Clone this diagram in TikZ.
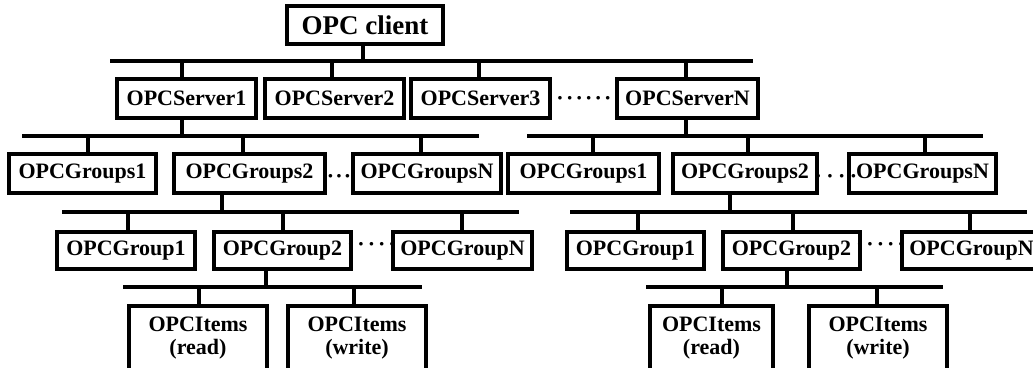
\documentclass[tikz,border=0pt]{standalone}
\usepackage{fontspec}
\setmainfont{Liberation Serif}
\begin{document}
\begin{tikzpicture}[x=1pt,y=-1pt,
  box/.style={draw, line width=3.2pt, inner sep=0pt, align=center,
    font=\fontsize{22}{23.5}\bfseries\selectfont, minimum height=39pt},
  bus/.style={line width=4pt},
  link/.style={line width=3.2pt},
  dotsty/.style={inner sep=0pt, font=\fontsize{22}{23.5}\bfseries\selectfont}]
\useasboundingbox (0,0) rectangle (1033,367);
\clip (0,0) rectangle (1033,367);

% ---------- nodes ----------
\node[box, minimum width=156pt, minimum height=38pt,
      font=\fontsize{27}{30}\bfseries\selectfont] (client) at (365,25) {OPC client};

\node[box, minimum width=139pt] (s1) at (186.5,98.5) {OPCServer1};
\node[box, minimum width=139pt] (s2) at (334.5,98.5) {OPCServer2};
\node[box, minimum width=139pt] (s3) at (480.5,98.5) {OPCServer3};
\node[box, minimum width=141pt] (sn) at (687.5,98.5) {OPCServerN};
\node[dotsty] (sdots) at (584,101) {·\kern2.2pt·\kern2.2pt·\kern2.2pt·\kern2.2pt·\kern2.2pt·};

\node[box, minimum width=147pt] (gsl1) at (82.5,173.5) {OPCGroups1};
\node[box, minimum width=151pt] (gsl2) at (249.5,173.5) {OPCGroups2};
\node[box, minimum width=148pt] (gsln) at (427,173.5) {OPCGroupsN};
\node[dotsty] (gsldots) at (339,179) {·\kern1.1pt·\kern1.1pt·};

\node[box, minimum width=151pt] (gsr1) at (583.5,173.5) {OPCGroups1};
\node[box, minimum width=144pt] (gsr2) at (745,173.5) {OPCGroups2};
\node[box, minimum width=147pt] (gsrn) at (922.5,173.5) {OPCGroupsN};
\node[dotsty] (gsrdots) at (836,179) {·\kern4.4pt·\kern4.4pt·\kern4.4pt·};

\node[box, minimum width=138pt, minimum height=37pt] (gl1) at (126,250.5) {OPCGroup1};
\node[box, minimum width=137pt, minimum height=37pt] (gl2) at (282.5,250.5) {OPCGroup2};
\node[box, minimum width=139pt, minimum height=37pt] (gln) at (462.5,250.5) {OPCGroupN};
\node[dotsty] (gldots) at (371.5,247) {·\kern3pt·\kern3pt·\kern3pt·\kern3pt·};

\node[box, minimum width=137pt, minimum height=37pt] (gr1) at (635.5,250.5) {OPCGroup1};
\node[box, minimum width=137pt, minimum height=37pt] (gr2) at (791.5,250.5) {OPCGroup2};
\node[box, minimum width=139pt, minimum height=37pt] (grn) at (971.5,250.5) {OPCGroupN};
\node[dotsty] (grdots) at (880.5,247) {·\kern3pt·\kern3pt·\kern3pt·\kern3pt·};

\node[box, minimum width=138pt, minimum height=64pt] (irl) at (198,338) {OPCItems\\(read)};
\node[box, minimum width=138pt, minimum height=64pt] (iwl) at (357,338) {OPCItems\\(write)};
\node[box, minimum width=123pt, minimum height=64pt] (irr) at (711.5,338) {OPCItems\\(read)};
\node[box, minimum width=138pt, minimum height=64pt] (iwr) at (878,338) {OPCItems\\(write)};

% ---------- bus 1 ----------
\coordinate (b1a) at (110,61);  \coordinate (b1b) at (753,61);
\draw[bus] (b1a) -- (b1b);
\coordinate (c0) at (363,61);
\draw[link] (c0) -- (c0 |- client.south);
\foreach \x/\n in {182/s1, 332/s2, 479/s3, 686/sn}{
  \coordinate (d1\n) at (\x,61);
  \draw[link] (d1\n) -- (d1\n |- \n.north);
}

% ---------- bus 2 left ----------
\coordinate (b2la) at (22,136);  \coordinate (b2lb) at (479,136);
\draw[bus] (b2la) -- (b2lb);
\coordinate (u2l) at (182,136);
\draw[link] (u2l |- s1.south) -- (u2l);
\foreach \x/\n in {88/gsl1, 243/gsl2, 421/gsln}{
  \coordinate (d2\n) at (\x,136);
  \draw[link] (d2\n) -- (d2\n |- \n.north);
}

% ---------- bus 2 right ----------
\coordinate (b2ra) at (527,136);  \coordinate (b2rb) at (983,136);
\draw[bus] (b2ra) -- (b2rb);
\coordinate (u2r) at (686,136);
\draw[link] (u2r |- sn.south) -- (u2r);
\foreach \x/\n in {593/gsr1, 748/gsr2, 925/gsrn}{
  \coordinate (d2\n) at (\x,136);
  \draw[link] (d2\n) -- (d2\n |- \n.north);
}

% ---------- bus 3 left ----------
\coordinate (b3la) at (62,212);  \coordinate (b3lb) at (519,212);
\draw[bus] (b3la) -- (b3lb);
\coordinate (u3l) at (222,212);
\draw[link] (u3l |- gsl2.south) -- (u3l);
\foreach \x/\n in {128/gl1, 283/gl2, 462/gln}{
  \coordinate (d3\n) at (\x,212);
  \draw[link] (d3\n) -- (d3\n |- \n.north);
}

% ---------- bus 3 right ----------
\coordinate (b3ra) at (570,212);  \coordinate (b3rb) at (1027,212);
\draw[bus] (b3ra) -- (b3rb);
\coordinate (u3r) at (730,212);
\draw[link] (u3r |- gsr2.south) -- (u3r);
\foreach \x/\n in {638/gr1, 793/gr2, 970/grn}{
  \coordinate (d3\n) at (\x,212);
  \draw[link] (d3\n) -- (d3\n |- \n.north);
}

% ---------- bus 4 left ----------
\coordinate (b4la) at (123,287);  \coordinate (b4lb) at (422,287);
\draw[bus] (b4la) -- (b4lb);
\coordinate (u4l) at (266,287);
\draw[link] (u4l |- gl2.south) -- (u4l);
\foreach \x/\n in {199/irl, 354/iwl}{
  \coordinate (d4\n) at (\x,287);
  \draw[link] (d4\n) -- (d4\n |- \n.north);
}

% ---------- bus 4 right ----------
\coordinate (b4ra) at (646,287);  \coordinate (b4rb) at (943,287);
\draw[bus] (b4ra) -- (b4rb);
\coordinate (u4r) at (787,287);
\draw[link] (u4r |- gr2.south) -- (u4r);
\foreach \x/\n in {722/irr, 877/iwr}{
  \coordinate (d4\n) at (\x,287);
  \draw[link] (d4\n) -- (d4\n |- \n.north);
}
\end{tikzpicture}
\end{document}
